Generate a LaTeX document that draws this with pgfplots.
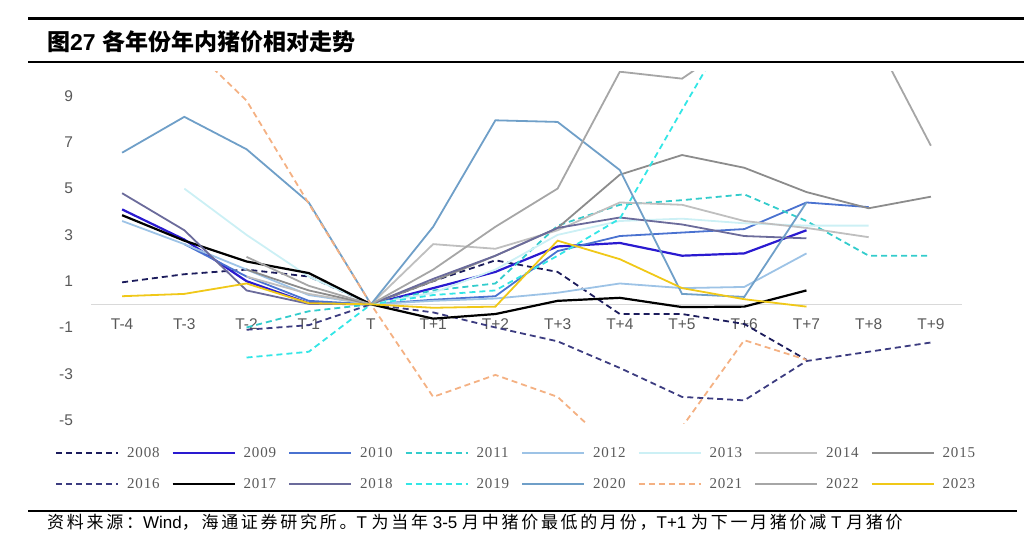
\documentclass[border=0pt]{standalone}
\usepackage{pgfplots}
\pgfplotsset{compat=1.18}
\usepackage{fontspec}
\setmainfont{Liberation Sans}
\newfontfamily\cjk{Noto Sans CJK SC}
\newfontfamily\cjkfoot[LetterSpace=16]{Noto Sans CJK SC}
\newfontfamily\legfont[LetterSpace=6]{Liberation Serif}
\definecolor{tickgray}{HTML}{595959}
\definecolor{cA}{HTML}{1C1C5C}
\definecolor{cB}{HTML}{2A1AD0}
\definecolor{cC}{HTML}{4A72D0}
\definecolor{cD}{HTML}{33CCCC}
\definecolor{cE}{HTML}{9DC3E6}
\definecolor{cF}{HTML}{CCF0F5}
\definecolor{cG}{HTML}{BFBFBF}
\definecolor{cH}{HTML}{8C8C8C}
\definecolor{cI}{HTML}{3C3C80}
\definecolor{cJ}{HTML}{000000}
\definecolor{cK}{HTML}{6B6B9B}
\definecolor{cL}{HTML}{33E6E6}
\definecolor{cM}{HTML}{6F9FC8}
\definecolor{cN}{HTML}{F4B183}
\definecolor{cO}{HTML}{A6A6A6}
\definecolor{cP}{HTML}{F0C818}
\begin{document}
\begin{tikzpicture}
\useasboundingbox (0pt,0pt) rectangle (1024pt,-555pt);
\draw[line width=2.2pt] (28pt,-18.5pt) -- (1024pt,-18.5pt);
\draw[line width=2.2pt] (28pt,-62pt) -- (1024pt,-62pt);
\draw[line width=1.8pt] (28pt,-511pt) -- (1017pt,-511pt);
\node[anchor=base west, inner sep=0pt] at (47pt,-50pt) {\fontsize{23}{26}\selectfont{\cjk\bfseries 图}{\bfseries 27} {\cjk\bfseries 各年份年内猪价相对走势}};
\node[anchor=base west, inner sep=0pt] at (47pt,-528pt) {\fontsize{17}{20}\selectfont{\cjkfoot 资料来源：}Wind{\cjkfoot ，海通证券研究所。}T {\cjkfoot 为当年} 3-5 {\cjkfoot 月中猪价最低的月份，}T+1 {\cjkfoot 为下一月猪价减} T {\cjkfoot 月猪价}};
\begin{axis}[
 at={(91pt,-423.5pt)}, anchor=south west,
 scale only axis, width=871pt, height=351.8pt,
 xmin=-0.5, xmax=13.5, ymin=-5.15, ymax=10.05,
 axis x line*=middle, axis y line*=left,
 y axis line style={draw=none},
 x axis line style={draw=black!15, line width=1.5pt},
 xtick={0,...,13},
 xticklabels={T-4,T-3,T-2,T-1,T,T+1,T+2,T+3,T+4,T+5,T+6,T+7,T+8,T+9},
 ytick={-5,-3,-1,1,3,5,7,9},
 yticklabels={-5,-3,-1,1,3,5,7,9},
 major tick length=0pt,
 tick label style={font=\fontsize{15.5}{18}\selectfont, text=tickgray},
 xticklabel style={yshift=-11pt},
 yticklabel style={xshift=-14.5pt},
 every axis plot/.append style={line width=1.8pt},
 legend columns=8,
 legend cell align=left,
 legend image code/.code={\draw[line width=1.8pt,#1] (0pt,0pt) -- (62pt,0pt);},
 legend style={at={(-0.0413,-0.0668)}, anchor=north west, draw=none, fill=none, inner sep=0pt,
   font=\legfont\fontsize{15}{18}\selectfont, text=tickgray,
   nodes={inner sep=0pt},
   /tikz/every odd column/.append style={column sep=8pt},
   /tikz/every even column/.append style={column sep=12pt},
   row sep=19.5pt},
]
% 2008
\addplot[cA, dashed, dash pattern=on 6pt off 4pt] coordinates {(0,0.95)(1,1.3)(2,1.5)(3,1.2)(4,0)(5,1.0)(6,1.9)(7,1.4)(8,-0.42)(9,-0.42)(10,-0.85)(11,-2.4)};
% 2009
\addplot[cB, line width=2.2pt] coordinates {(0,4.1)(1,2.8)(2,1.0)(3,0.05)(4,0)(5,0.7)(6,1.4)(7,2.5)(8,2.65)(9,2.1)(10,2.2)(11,3.2)};
% 2010
\addplot[cC] coordinates {(1,2.6)(2,1.2)(3,0.15)(4,0)(5,0.2)(6,0.35)(7,2.3)(8,2.95)(9,3.1)(10,3.25)(11,4.4)(12,4.2)};
% 2011
\addplot[cD, dashed, dash pattern=on 6pt off 4pt] coordinates {(2,-1.0)(3,-0.3)(4,0)(5,0.6)(6,0.9)(7,3.4)(8,4.3)(9,4.5)(10,4.75)(11,3.6)(12,2.1)(13,2.1)};
% 2012
\addplot[cE] coordinates {(0,3.6)(1,2.6)(2,1.5)(3,0.4)(4,0)(5,0.15)(6,0.25)(7,0.5)(8,0.9)(9,0.7)(10,0.75)(11,2.2)};
% 2013
\addplot[cF] coordinates {(1,5.0)(2,3.0)(3,1.2)(4,0)(5,0.5)(6,1.5)(7,3.0)(8,3.6)(9,3.7)(10,3.5)(11,3.4)(12,3.4)};
% 2014
\addplot[cG] coordinates {(2,1.2)(3,0.45)(4,0)(5,2.6)(6,2.4)(7,3.2)(8,4.4)(9,4.3)(10,3.6)(11,3.3)(12,2.9)};
% 2015
\addplot[cH] coordinates {(2,1.5)(3,0.6)(4,0)(5,1.0)(6,2.1)(7,3.3)(8,5.6)(9,6.45)(10,5.9)(11,4.85)(12,4.15)(13,4.65)};
% 2016
\addplot[cI, dashed, dash pattern=on 6pt off 4pt] coordinates {(2,-1.1)(3,-0.9)(4,0)(5,-0.35)(6,-1.0)(7,-1.6)(8,-2.75)(9,-4.0)(10,-4.15)(11,-2.45)(12,-2.05)(13,-1.65)};
% 2017
\addplot[cJ, line width=2.2pt] coordinates {(0,3.85)(1,2.75)(2,1.85)(3,1.35)(4,0)(5,-0.62)(6,-0.42)(7,0.15)(8,0.28)(9,-0.12)(10,-0.1)(11,0.6)};
% 2018
\addplot[cK] coordinates {(0,4.8)(1,3.2)(2,0.6)(3,0.02)(4,0)(5,1.1)(6,2.1)(7,3.3)(8,3.75)(9,3.45)(10,2.95)(11,2.85)};
% 2019
\addplot[cL, dashed, dash pattern=on 6pt off 4pt] coordinates {(2,-2.3)(3,-2.05)(4,0)(5,0.4)(6,0.6)(7,2.1)(8,3.7)(9,8.4)(10,13.0)};
% 2020
\addplot[cM] coordinates {(0,6.55)(1,8.1)(2,6.7)(3,4.4)(4,0)(5,3.35)(6,7.95)(7,7.88)(8,5.8)(9,0.45)(10,0.32)(11,4.4)};
% 2021
\addplot[cN, dashed, dash pattern=on 6pt off 4pt] coordinates {(1,11.4)(2,8.8)(3,4.35)(4,0)(5,-4.0)(6,-3.05)(7,-4.0)(8,-6.5)(9,-5.3)(10,-1.55)(11,-2.4)};
% 2022
\addplot[cO] coordinates {(2,2.05)(3,0.8)(4,0)(5,1.5)(6,3.35)(7,5.0)(8,10.05)(9,9.75)(10,11.6)(11,13.0)(12,12.0)(13,6.85)};
% 2023
\addplot[cP] coordinates {(0,0.35)(1,0.45)(2,0.9)(3,0.05)(4,0)(5,-0.15)(6,-0.1)(7,2.75)(8,1.95)(9,0.7)(10,0.22)(11,-0.1)};
\legend{2008,2009,2010,2011,2012,2013,2014,2015,2016,2017,2018,2019,2020,2021,2022,2023}
\end{axis}
\end{tikzpicture}
\end{document}
